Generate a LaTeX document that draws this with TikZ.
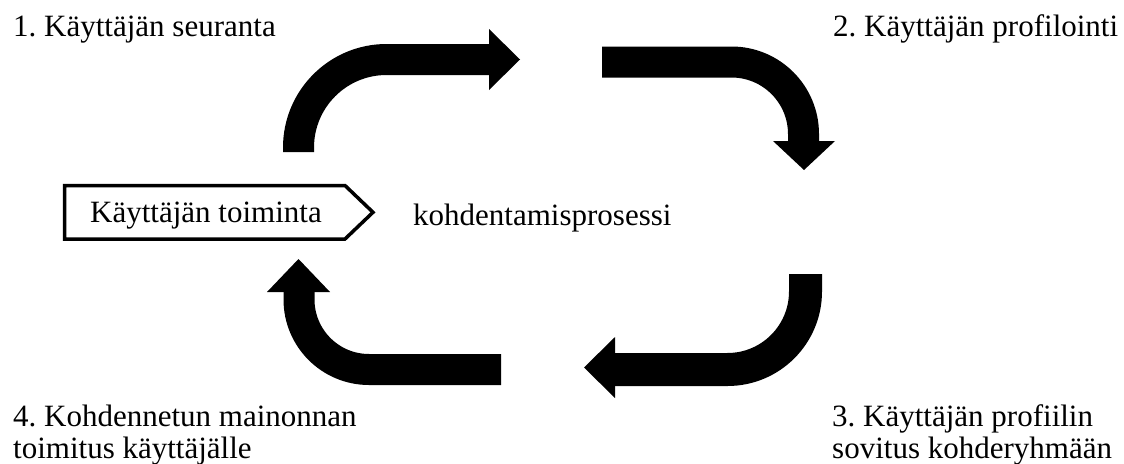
\documentclass[tikz,border=0pt]{standalone}
\usepackage{fontspec}
\setmainfont{Liberation Serif}
\frenchspacing
\begin{document}
\begin{tikzpicture}[x=1pt,y=-1pt,
  lbl/.style={anchor=base west,inner sep=0pt,font=\fontsize{31}{33}\selectfont,align=left},
  shaft/.style={line width=31pt,black},
  headtip/.style={fill=black,draw=none}]
\useasboundingbox (0,0) rectangle (1124,463);
% labels
\node[lbl] (l1) at (13,36) {1. Käyttäjän seuranta};
\node[lbl] (l2) at (833,36) {2. Käyttäjän profilointi};
\node[lbl] (l3) at (832,426) {3. Käyttäjän profiilin};
\node[lbl] (l3b) at (832,458) {sovitus kohderyhmään};
\node[lbl] (l4) at (13,426) {4. Kohdennetun mainonnan};
\node[lbl] (l4b) at (13,458) {toimitus käyttäjälle};
\node[lbl] (mid) at (413,225) {kohdentamisprosessi};
% box
\draw[line width=3.5pt,line join=miter] (64.5,185.5) -- (345,185.5) -- (373,212.3) -- (345,239) -- (64.5,239) -- cycle;
\node[lbl] (act) at (90,222) {Käyttäjän toiminta};
% arrow 1
\coordinate (a1s) at (298.5,152);
\coordinate (a1e) at (489.5,59.5);
\draw[shaft,rounded corners=88pt] (a1s) |- (a1e);
\fill[headtip] (489,29) -- (520,59.5) -- (489,90) -- cycle;
% arrow 2
\coordinate (a2s) at (602,62);
\coordinate (a2e) at (803.5,141.5);
\draw[shaft,rounded corners=72pt] (a2s) -| (a2e);
\fill[headtip] (773,141) -- (804,170) -- (835,141) -- cycle;
% arrow 3
\coordinate (a3s) at (805.5,274);
\coordinate (a3e) at (614.5,369.5);
\draw[shaft,line width=33pt,rounded corners=78pt] (a3s) |- (a3e);
\fill[headtip] (615,337) -- (584,367.5) -- (615,398) -- cycle;
% arrow 4
\coordinate (a4s) at (501,369.5);
\coordinate (a4e) at (299,291.5);
\draw[shaft,rounded corners=70pt] (a4s) -| (a4e);
\fill[headtip] (267,292) -- (298.5,259) -- (330,292) -- cycle;
\end{tikzpicture}
\end{document}
